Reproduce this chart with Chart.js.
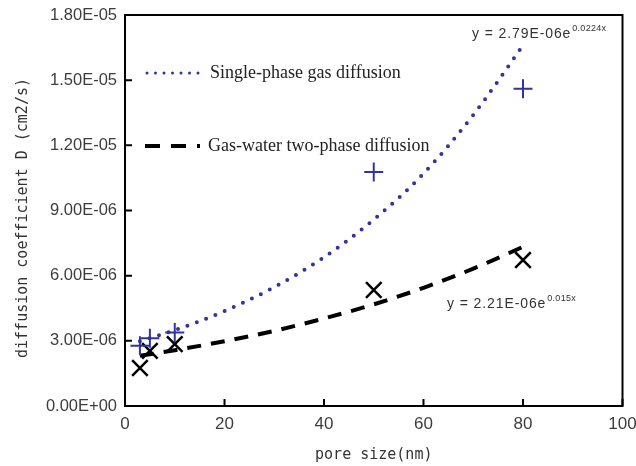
<!DOCTYPE html>
<html>
<head>
<meta charset="utf-8">
<script src="https://cdn.jsdelivr.net/npm/chart.js@4"></script>
<style>
  html, body { margin: 0; padding: 0; background: #ffffff; }
  #wrap { width: 636px; height: 466px; }
</style>
</head>
<body>
<div id="wrap"><canvas id="diffChart" width="636" height="466"></canvas></div>
<script>
// measured points
const poreSize = [3, 5, 10, 50, 80];
const singlePhase = [2.77e-6, 3.12e-6, 3.38e-6, 1.077e-5, 1.46e-5];
const twoPhase = [1.75e-6, 2.54e-6, 2.85e-6, 5.34e-6, 6.72e-6];

// fitted curves
const fitX = [3, 10, 20, 30, 40, 50, 60, 70, 80];
const singleFit = [2.98e-6, 3.49e-6, 4.37e-6, 5.47e-6, 6.85e-6, 8.58e-6, 1.07e-5, 1.34e-5, 1.66e-5];
const twoFit = [2.31e-6, 2.57e-6, 2.98e-6, 3.46e-6, 4.03e-6, 4.68e-6, 5.44e-6, 6.32e-6, 7.33e-6];

const xTickValues = [0, 20, 40, 60, 80, 100];
const yTickValues = [0, 3e-6, 6e-6, 9e-6, 1.2e-5, 1.5e-5, 1.8e-5];

const blue = '#33339a';
const tickColor = '#3d3d3d';

const toPoints = (xs, ys) => xs.map((x, i) => ({ x: x, y: ys[i] }));

function sci(v) {
    if (v === 0) return '0.00E+00';
    const parts = v.toExponential(2).split('e');
    const n = parseInt(parts[1], 10);
    return parts[0] + 'E' + (n < 0 ? '-' : '+') + String(Math.abs(n)).padStart(2, '0');
}

function equation(ctx, base, sup, x, y) {
    ctx.font = '14px "Liberation Sans"';
    ctx.letterSpacing = '0.9px';
    ctx.fillText(base, x, y);
    const w = ctx.measureText(base).width;
    ctx.font = '9px "Liberation Sans"';
    ctx.letterSpacing = '0.3px';
    ctx.fillText(sup, x + w + 1, y - 5);
    ctx.letterSpacing = '0px';
}

// box, inward ticks, y title, legend and equations
const decorations = {
    id: 'decorations',
    afterDraw(chart) {
        const ctx = chart.ctx;
        const a = chart.chartArea;
        const xs = chart.scales.x;
        const ys = chart.scales.y;
        ctx.save();

        ctx.strokeStyle = '#000';
        ctx.lineWidth = 2;
        ctx.strokeRect(a.left, a.top, a.right - a.left, a.bottom - a.top);

        ctx.beginPath();
        xs.ticks.forEach(t => {
            const px = xs.getPixelForValue(t.value);
            ctx.moveTo(px, a.bottom);
            ctx.lineTo(px, a.bottom - 7);
        });
        ys.ticks.forEach(t => {
            const py = ys.getPixelForValue(t.value);
            ctx.moveTo(a.left, py);
            ctx.lineTo(a.left + 7, py);
        });
        ctx.stroke();

        // y axis title
        ctx.save();
        ctx.translate(23, 218);
        ctx.rotate(-Math.PI / 2);
        ctx.fillStyle = '#333';
        ctx.font = '15px "DejaVu Sans Mono"';
        ctx.textAlign = 'center';
        ctx.textBaseline = 'middle';
        ctx.fillText('diffusion coefficient D (cm2/s)', 0, 0);
        ctx.restore();

        // legend
        ctx.lineCap = 'round';
        ctx.strokeStyle = blue;
        ctx.lineWidth = 3;
        ctx.setLineDash([0, 8.5]);
        ctx.beginPath();
        ctx.moveTo(147, 73);
        ctx.lineTo(201, 73);
        ctx.stroke();

        ctx.lineCap = 'butt';
        ctx.strokeStyle = '#000';
        ctx.lineWidth = 4;
        ctx.setLineDash([15, 11]);
        ctx.beginPath();
        ctx.moveTo(145, 146);
        ctx.lineTo(200, 146);
        ctx.stroke();
        ctx.setLineDash([]);

        ctx.fillStyle = '#222';
        ctx.font = '18px "Liberation Serif"';
        ctx.textAlign = 'left';
        ctx.textBaseline = 'middle';
        ctx.fillText('Single-phase gas diffusion', 210, 73);
        ctx.fillText('Gas-water two-phase diffusion', 208, 146);

        // trend equations
        ctx.fillStyle = '#333';
        equation(ctx, 'y = 2.79E-06e', '0.0224x', 472, 34);
        equation(ctx, 'y = 2.21E-06e', '0.015x', 447, 304);

        ctx.restore();
    }
};

new Chart(document.getElementById('diffChart'), {
    type: 'scatter',
    data: {
        datasets: [
            {
                label: 'Single-phase gas diffusion',
                data: toPoints(poreSize, singlePhase),
                pointStyle: 'cross',
                pointRadius: 9.5,
                pointBorderWidth: 2,
                borderColor: blue,
                backgroundColor: blue
            },
            {
                label: 'Gas-water two-phase diffusion',
                data: toPoints(poreSize, twoPhase),
                pointStyle: 'crossRot',
                pointRadius: 11,
                pointBorderWidth: 2.5,
                borderColor: '#000',
                backgroundColor: '#000'
            },
            {
                label: 'single fit',
                data: toPoints(fitX, singleFit),
                showLine: true,
                pointRadius: 0,
                borderColor: blue,
                borderWidth: 4,
                borderDash: [0, 10],
                borderCapStyle: 'round',
                cubicInterpolationMode: 'monotone'
            },
            {
                label: 'two-phase fit',
                data: toPoints(fitX, twoFit),
                showLine: true,
                pointRadius: 0,
                borderColor: '#000',
                borderWidth: 4,
                borderDash: [14, 10],
                borderCapStyle: 'butt',
                cubicInterpolationMode: 'monotone'
            }
        ]
    },
    options: {
        responsive: false,
        animation: false,
        events: [],
        layout: { padding: { top: 15, right: 0, left: 0, bottom: 0 } },
        plugins: {
            legend: { display: false },
            tooltip: { enabled: false }
        },
        scales: {
            x: {
                type: 'linear',
                min: 0,
                max: 100,
                afterBuildTicks: s => { s.ticks = xTickValues.map(v => ({ value: v })); },
                afterFit: s => { s.height = 60; s.paddingLeft = 0; s.paddingRight = 12; },
                grid: { display: false, drawTicks: false },
                border: { display: false },
                ticks: {
                    color: tickColor,
                    padding: 8,
                    maxRotation: 0,
                    font: { family: '"Liberation Sans"', size: 17 }
                },
                title: {
                    display: true,
                    text: 'pore size(nm)',
                    color: '#333',
                    padding: { top: 0, bottom: 2 },
                    font: { family: '"DejaVu Sans Mono"', size: 15 }
                }
            },
            y: {
                type: 'linear',
                min: 0,
                max: 1.8e-5,
                afterBuildTicks: s => { s.ticks = yTickValues.map(v => ({ value: v })); },
                afterFit: s => { s.width = 125; s.paddingTop = 0; s.paddingBottom = 0; },
                grid: { display: false, drawTicks: false },
                border: { display: false },
                ticks: {
                    color: tickColor,
                    padding: 8,
                    font: { family: '"Liberation Sans"', size: 16.5 },
                    callback: v => sci(v)
                }
            }
        }
    },
    plugins: [decorations]
});
</script>
</body>
</html>
